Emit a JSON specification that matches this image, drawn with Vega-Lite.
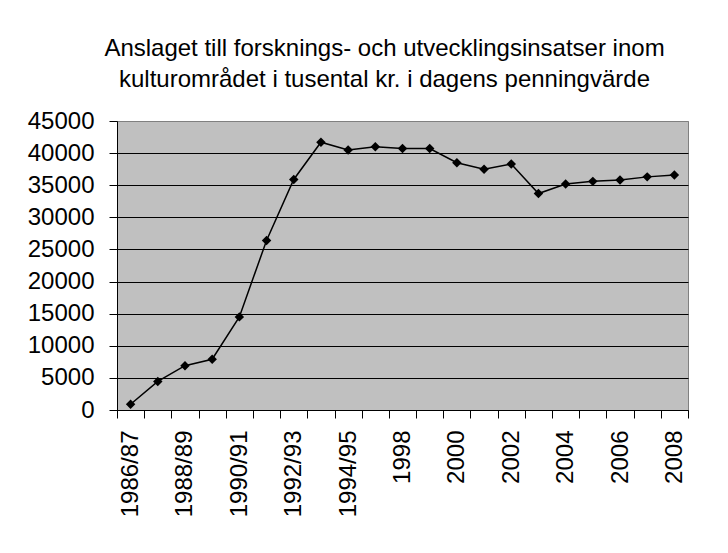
{
  "$schema": "https://vega.github.io/schema/vega-lite/v6.json",
  "width": 571,
  "height": 289,
  "padding": {"left": 27, "top": 37, "right": 40, "bottom": 10},
  "background": "white",
  "title": {
    "text": ["Anslaget till forsknings- och utvecklingsinsatser inom", "kulturområdet i tusental kr. i dagens penningvärde"],
    "font": "Liberation Sans",
    "fontSize": 24,
    "fontWeight": "normal",
    "color": "black",
    "lineHeight": 31,
    "anchor": "middle",
    "dx": -18,
    "offset": 17
  },
  "data": {
    "values": [
      {"year": "1986/87", "value": 900},
      {"year": "1987/88", "value": 4450},
      {"year": "1988/89", "value": 6900},
      {"year": "1989/90", "value": 7900},
      {"year": "1990/91", "value": 14500},
      {"year": "1991/92", "value": 26400},
      {"year": "1992/93", "value": 35900},
      {"year": "1993/94", "value": 41700},
      {"year": "1994/95", "value": 40500},
      {"year": "1997", "value": 41000},
      {"year": "1998", "value": 40700},
      {"year": "1999", "value": 40700},
      {"year": "2000", "value": 38500},
      {"year": "2001", "value": 37500},
      {"year": "2002", "value": 38300},
      {"year": "2003", "value": 33700},
      {"year": "2004", "value": 35200},
      {"year": "2005", "value": 35600},
      {"year": "2006", "value": 35800},
      {"year": "2007", "value": 36300},
      {"year": "2008", "value": 36600}
    ]
  },
  "encoding": {
    "x": {
      "field": "year",
      "type": "ordinal",
      "sort": null,
      "scale": {"type": "band", "paddingInner": 0, "paddingOuter": 0},
      "axis": {
        "title": null,
        "labelAngle": -90,
        "labelFont": "Liberation Sans",
        "labelFontSize": 24,
        "labelColor": "black",
        "labelPadding": 12,
        "tickBand": "extent",
        "tickSize": 8,
        "tickColor": "black",
        "domainColor": "black",
        "labelOverlap": false,
        "labelExpr": "indexof(['1986/87','1988/89','1990/91','1992/93','1994/95','1998','2000','2002','2004','2006','2008'], datum.value) >= 0 ? datum.label : ''",
        "grid": false
      }
    },
    "y": {
      "field": "value",
      "type": "quantitative",
      "scale": {"domain": [0, 45000], "nice": false},
      "axis": {
        "title": null,
        "values": [0, 5000, 10000, 15000, 20000, 25000, 30000, 35000, 40000, 45000],
        "format": "d",
        "labelFont": "Liberation Sans",
        "labelFontSize": 24,
        "labelColor": "black",
        "labelPadding": 15,
        "tickSize": 8,
        "tickColor": "black",
        "domainColor": "black",
        "grid": true,
        "gridColor": {"condition": {"test": "datum.value == 45000", "value": "#808080"}, "value": "black"},
        "gridOpacity": 1,
        "gridWidth": 1
      }
    }
  },
  "layer": [
    {"mark": {"type": "line", "color": "black", "strokeWidth": 1.5}},
    {"mark": {"type": "point", "shape": "diamond", "filled": true, "color": "black", "opacity": 1, "size": 90}}
  ],
  "config": {
    "view": {"fill": "#C0C0C0", "stroke": "#808080", "strokeWidth": 1}
  }
}
